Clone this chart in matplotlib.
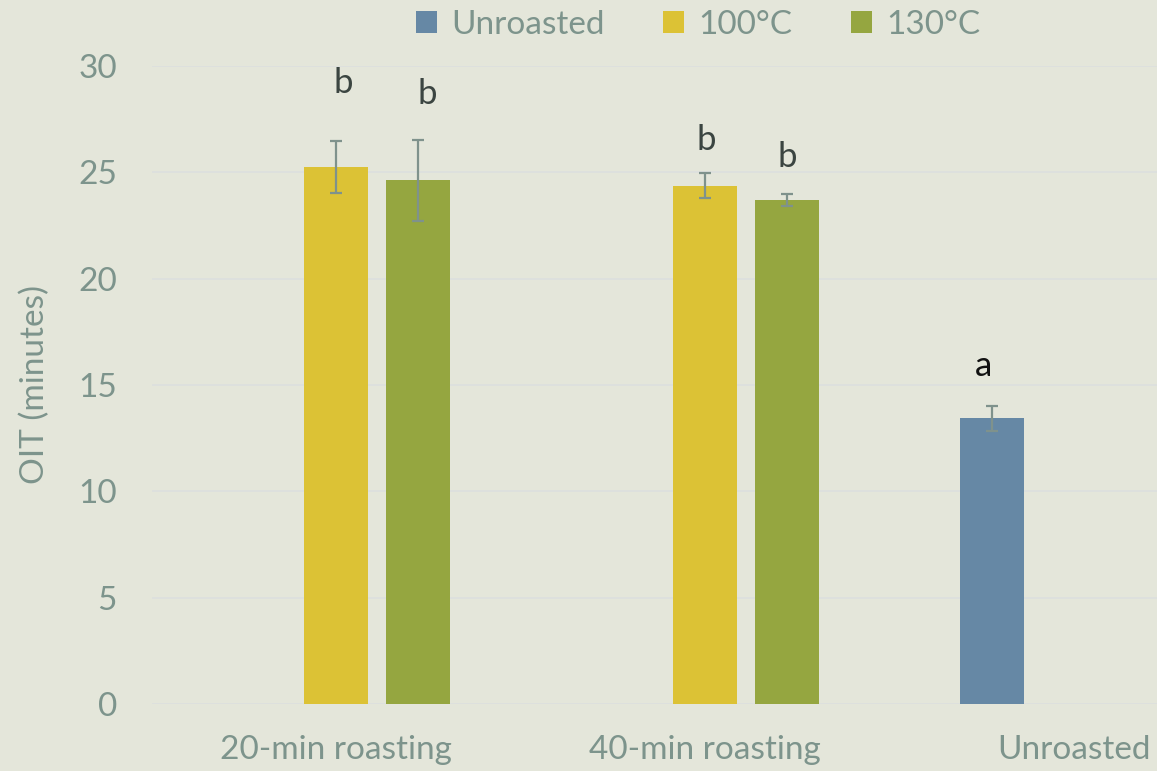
import matplotlib
matplotlib.use("Agg")
import matplotlib.pyplot as plt
import numpy as np

categories = ["20-min roasting", "40-min roasting", "Unroasted"]
series = ["Unroasted", "100°C", "130°C"]
values = {
    "Unroasted": [np.nan, np.nan, 13.43],
    "100°C": [25.25, 24.37, np.nan],
    "130°C": [24.63, 23.69, np.nan],
}
errors = {
    "Unroasted": [np.nan, np.nan, 0.57],
    "100°C": [1.21, 0.6, np.nan],
    "130°C": [1.9, 0.27, np.nan],
}
colors = {"Unroasted": "#6688a5", "100°C": "#dcc235", "130°C": "#95a640"}
letters = ["b", "b", "b", "b", "a"]
letter_cat = [0, 0, 1, 1, 2]
letter_series = [1, 2, 1, 2, 0]
letter_y = [29.2, 28.7, 26.5, 25.7, 15.9]
letter_colors = ["#3b4541", "#3b4541", "#3b4541", "#3b4541", "#111111"]
yticks = [0, 5, 10, 15, 20, 25, 30]

# layout: horizontal nudges of letters (pixels)
letter_dx_px = [7, 9, 1, 0, -8]

bg = "#e4e6da"
tick_color = "#7d948c"
plt.rcParams["font.family"] = ["Lato", "DejaVu Sans"]
FS = 24

fig = plt.figure(figsize=(11.57, 7.71), dpi=100, facecolor=bg)
W, H = 1157, 771
left_px, right_px, top_px, bot_px = 151.5, 1157, 66, 704
ax = fig.add_axes([left_px / W, 1 - bot_px / H, (right_px - left_px) / W, (bot_px - top_px) / H])
ax.set_facecolor(bg)

x = np.arange(len(categories))
bw = 64 / 369
off = 82 / 369
handles = []
for i, s in enumerate(series):
    pos = x + (i - 1) * off
    h = ax.bar(pos, values[s], width=bw, color=colors[s], label=s, zorder=2)
    handles.append(h)
    ax.errorbar(pos, values[s], yerr=errors[s], fmt="none", ecolor="#7f928c",
                elinewidth=1.6, capsize=4.5, capthick=1.6, zorder=3)

for l, c, si, yy, col, dx in zip(letters, letter_cat, letter_series, letter_y,
                                  letter_colors, letter_dx_px):
    ax.text(c + (si - 1) * off + dx / 369, yy, l, ha="center", va="center",
            fontsize=25, color=col, clip_on=False)

ax.set_xlim(-0.5, (right_px - 336) / 369)
ax.set_ylim(0, 30)
ax.set_yticks(yticks)
ax.yaxis.grid(True, color="#dcdfde", linewidth=1.2, zorder=0)
ax.set_axisbelow(True)
ax.set_xticks(x)
ax.set_xticklabels(categories)
ax.tick_params(axis="both", length=0, labelsize=FS, colors=tick_color)
ax.tick_params(axis="y", pad=25)
ax.tick_params(axis="x", pad=22)
for sp in ax.spines.values():
    sp.set_visible(False)
ax.set_ylabel("OIT (minutes)", fontsize=FS, color=tick_color)
ax.yaxis.set_label_coords(-(left_px - 50) / (right_px - left_px), 0.5)

fig.legend(handles=handles, labels=series, loc="center", ncol=3,
           bbox_to_anchor=(698 / W, 1 - 25 / H), frameon=False,
           fontsize=FS, labelcolor=tick_color, handlelength=0.64, handleheight=0.64,
           columnspacing=1.75, handletextpad=0.42)

fig.savefig("out.png", dpi=100, facecolor=bg)
